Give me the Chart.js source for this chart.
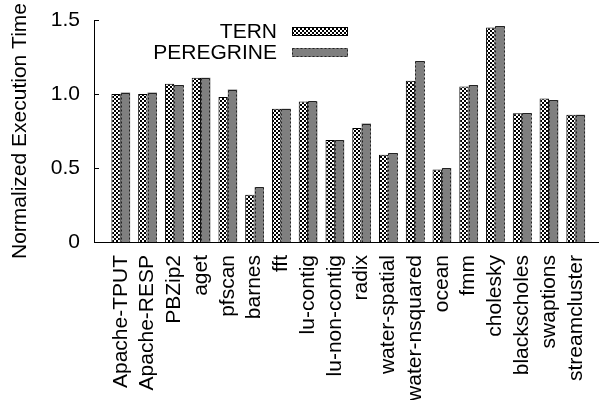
<!DOCTYPE html>
<html>
<head>
<meta charset="utf-8">
<script src="https://cdn.jsdelivr.net/npm/chart.js@4/dist/chart.umd.min.js"></script>
<style>
  html, body { margin: 0; padding: 0; background: #fff; }
  #wrap { width: 599px; height: 400px; }
</style>
</head>
<body>
<div id="wrap"><canvas id="c" width="599" height="400"></canvas></div>
<script>
// Benchmarks on the x axis
const categories = [
  'Apache-TPUT', 'Apache-RESP', 'PBZip2', 'aget', 'pfscan', 'barnes', 'fft',
  'lu-contig', 'lu-non-contig', 'radix', 'water-spatial', 'water-nsquared',
  'ocean', 'fmm', 'cholesky', 'blackscholes', 'swaptions', 'streamcluster'
];
// Normalized execution time per system
const ternValues = [1.00, 1.00, 1.07, 1.11, 0.98, 0.32, 0.90, 0.95, 0.69, 0.77, 0.59, 1.09, 0.49, 1.05, 1.45, 0.87, 0.97, 0.86];
const peregrineValues = [1.01, 1.01, 1.06, 1.11, 1.03, 0.37, 0.90, 0.95, 0.69, 0.80, 0.60, 1.22, 0.50, 1.06, 1.46, 0.87, 0.96, 0.86];
const yTicks = [0, 0.5, 1.0, 1.5];
const seriesNames = ['TERN', 'PEREGRINE'];

const FONT = '"Liberation Sans", Arial, Helvetica, sans-serif';
const FS = 21;

// Black/white checkerboard fill
function checkerPattern() {
  const t = document.createElement('canvas');
  t.width = 4; t.height = 4;
  const g = t.getContext('2d');
  g.fillStyle = '#fff';
  g.fillRect(0, 0, 4, 4);
  g.fillStyle = '#000';
  g.fillRect(0, 0, 2, 2);
  g.fillRect(2, 2, 2, 2);
  return g.createPattern(t, 'repeat');
}
const checker = checkerPattern();
const GREY = '#7f7f7f';

function toPoints(vals) { return vals.map((v, i) => ({ x: i, y: v })); }

// Dashed outline for the grey bars
const dashedBars = {
  id: 'dashedBars',
  afterDatasetsDraw(chart) {
    const meta = chart.getDatasetMeta(1);
    const ctx = chart.ctx;
    ctx.save();
    ctx.strokeStyle = '#222';
    ctx.lineWidth = 1;
    meta.data.forEach(el => {
      const p = el.getProps(['x', 'y', 'base', 'width'], true);
      const l = Math.round(p.x - p.width / 2) + 0.5;
      const r = Math.round(p.x + p.width / 2) - 0.5;
      const top = Math.round(p.y) + 0.5;
      const bot = Math.round(p.base);
      ctx.setLineDash([]);
      ctx.beginPath();
      ctx.moveTo(l, top); ctx.lineTo(r, top);
      ctx.stroke();
      ctx.setLineDash([2, 2]);
      ctx.beginPath();
      ctx.moveTo(l, top); ctx.lineTo(l, bot);
      ctx.moveTo(r, top); ctx.lineTo(r, bot);
      ctx.stroke();
    });
    ctx.restore();
  }
};

// Inward tick marks on the value axis
const innerTicks = {
  id: 'innerTicks',
  afterDraw(chart) {
    const y = chart.scales.y;
    const ctx = chart.ctx;
    const left = chart.chartArea.left;
    ctx.save();
    ctx.strokeStyle = '#000';
    ctx.lineWidth = 1;
    yTicks.forEach(v => {
      const py = Math.round(y.getPixelForValue(v)) + 0.5;
      ctx.beginPath();
      ctx.moveTo(left, py);
      ctx.lineTo(left + 5, py);
      ctx.stroke();
    });
    ctx.restore();
  }
};

// Key: label on the left, swatch on the right
const keyBox = {
  id: 'keyBox',
  afterDraw(chart) {
    const ctx = chart.ctx;
    const a = chart.chartArea;
    const textRight = a.left + 183;
    const swL = a.left + 198, swW = 56, swH = 9;
    const rows = [a.top + 11, a.top + 32];
    ctx.save();
    ctx.font = FS + 'px ' + FONT;
    ctx.fillStyle = '#000';
    ctx.textAlign = 'right';
    ctx.textBaseline = 'middle';
    seriesNames.forEach((name, i) => {
      const cy = rows[i];
      ctx.fillText(name, textRight, cy + 1);
      const top = Math.round(cy - swH / 2);
      if (i === 0) {
        ctx.fillStyle = checker;
        ctx.fillRect(swL, top, swW, swH);
        ctx.strokeStyle = '#000';
        ctx.setLineDash([]);
        ctx.strokeRect(swL + 0.5, top + 0.5, swW - 1, swH - 1);
      } else {
        ctx.fillStyle = GREY;
        ctx.fillRect(swL, top, swW, swH);
        ctx.strokeStyle = '#222';
        ctx.setLineDash([2, 2]);
        ctx.strokeRect(swL + 0.5, top + 0.5, swW - 1, swH - 1);
      }
      ctx.fillStyle = '#000';
    });
    ctx.restore();
  }
};

new Chart(document.getElementById('c'), {
  type: 'bar',
  data: {
    datasets: [
      {
        label: seriesNames[0],
        data: toPoints(ternValues),
        backgroundColor: checker,
        borderColor: '#000',
        borderWidth: 1,
        categoryPercentage: 0.7,
        barPercentage: 1.0
      },
      {
        label: seriesNames[1],
        data: toPoints(peregrineValues),
        backgroundColor: GREY,
        borderWidth: 0,
        categoryPercentage: 0.7,
        barPercentage: 1.0
      }
    ]
  },
  options: {
    responsive: false,
    devicePixelRatio: 1,
    animation: false,
    layout: { padding: { top: 20, right: 0, left: 0, bottom: 0 } },
    plugins: { legend: { display: false }, tooltip: { enabled: false } },
    scales: {
      x: {
        type: 'linear',
        offset: false,
        min: -1,
        max: 17.87,
        grid: { display: false, offset: false, drawTicks: false },
        border: { display: true, color: '#000', width: 1 },
        afterBuildTicks(scale) {
          scale.ticks = categories.map((_, i) => ({ value: i }));
        },
        afterFit(scale) {
          scale.height = 158;
          scale.paddingLeft = 0; scale.paddingRight = 0;
          scale.paddingTop = 0; scale.paddingBottom = 0;
        },
        ticks: {
          autoSkip: false,
          minRotation: 90,
          maxRotation: 90,
          padding: 13,
          color: '#000',
          font: { family: FONT, size: FS },
          callback: (v) => categories[v]
        }
      },
      y: {
        min: 0,
        max: 1.5,
        grid: { display: false, drawTicks: false },
        border: { display: true, color: '#000', width: 1 },
        afterBuildTicks(scale) {
          scale.ticks = yTicks.map(v => ({ value: v }));
        },
        afterFit(scale) {
          scale.width = 94;
          scale.paddingTop = 0; scale.paddingBottom = 0;
          scale.paddingLeft = 0; scale.paddingRight = 0;
        },
        ticks: {
          padding: 14,
          color: '#000',
          font: { family: FONT, size: FS },
          callback: (v) => (v === 0 ? '0' : v.toFixed(1))
        },
        title: {
          display: true,
          text: 'Normalized Execution Time',
          color: '#000',
          font: { family: FONT, size: FS },
          padding: { top: 8, bottom: 0 }
        }
      }
    }
  },
  plugins: [dashedBars, innerTicks, keyBox]
});
</script>
</body>
</html>
